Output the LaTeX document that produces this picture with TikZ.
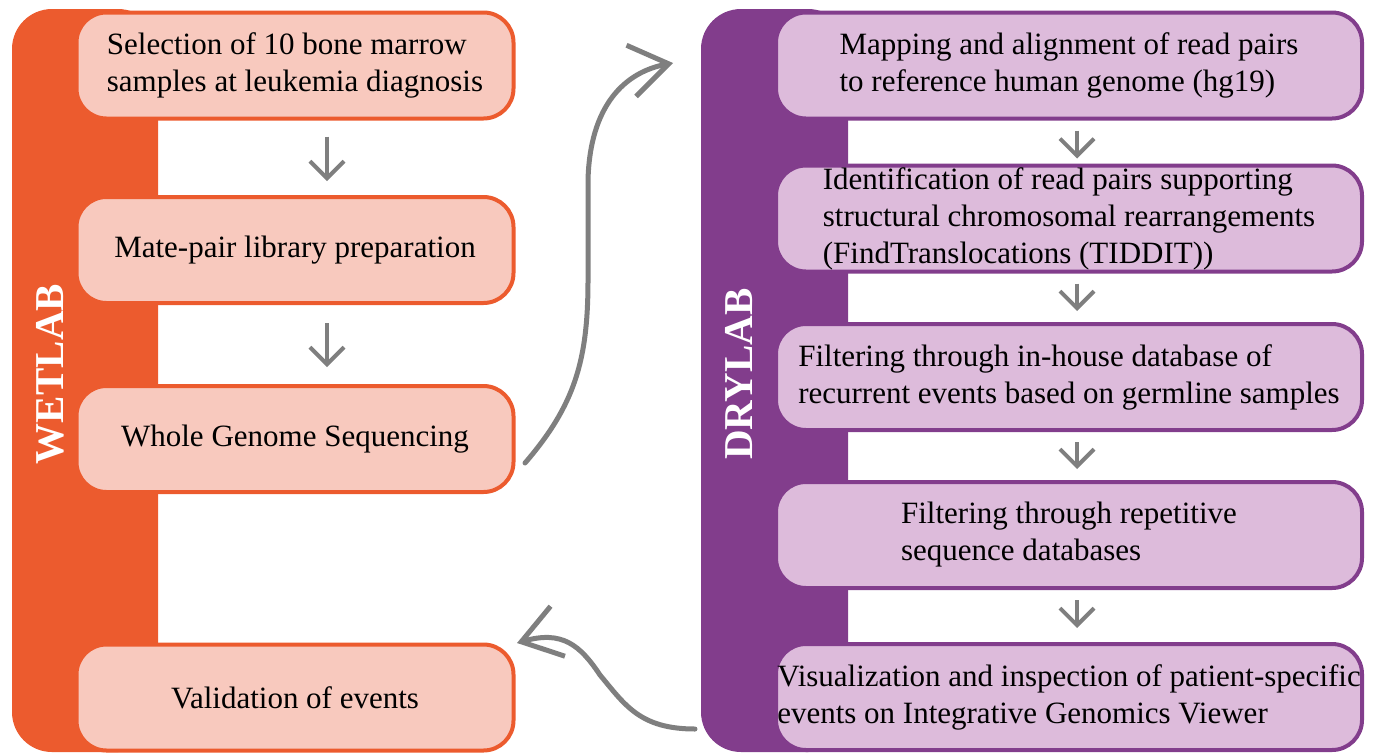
\documentclass[tikz,border=0pt]{standalone}
\usepackage{fontspec}
\setmainfont{Liberation Serif}
\usetikzlibrary{arrows.meta}
\usetikzlibrary{calc}
\definecolor{wetbar}{HTML}{EC5B2E}
\definecolor{wetfill}{HTML}{F8C9BE}
\definecolor{drybar}{HTML}{823D8C}
\definecolor{dryfill}{HTML}{DDBBDB}
\definecolor{arrgray}{HTML}{7F7F7F}
\newcommand{\labbar}[5] % left, right, colour, label, name
{
	% bar behind the boxes
	\fill[#3, rounded corners=40pt] (#1,9) rectangle (#2,752);
	% rotated label
	\node[barlabel] (#5) at ({#1+38},374) {#4};
}
\tikzset{
	stepbox/.style={draw, line width=4pt, rounded corners=30pt, align=left, inner sep=0pt,
		minimum height=106pt, font=\fontsize{31}{37}\selectfont},
	wetbox/.style={stepbox, draw=wetbar, fill=wetfill, minimum width=437pt},
	drybox/.style={stepbox, draw=drybar, fill=dryfill, minimum width=586pt},
	barlabel/.style={rotate=90, text=white, font=\fontsize{41}{41}\selectfont\bfseries},
	flowarr/.style={draw=arrgray, line width=4pt, -{Straight Barb[length=17pt,width=34pt]}},
	bigarr/.style={draw=arrgray, line width=5pt, line cap=round, -{Straight Barb[length=38pt,width=52pt]}},
}

\begin{document}
\begin{tikzpicture}[x=1pt, y=-1pt]
	\useasboundingbox (0,0) rectangle (1381,753);
	% wet lab column
	\labbar{12}{158}{wetbar}{WETLAB}{wetlab};
	\node[wetbox] (w1) at (295,65.5) {Selection of 10 bone marrow\\samples at leukemia diagnosis};
	\node[wetbox] (w2) at (295,250) {Mate-pair library preparation};
	\node[wetbox] (w3) at (295,439) {Whole Genome Sequencing};
	\node[wetbox] (w4) at (295,697.5) {Validation of events};
	\coordinate (wx) at (327,0);
	\draw[flowarr, shorten <=16pt, shorten >=14pt] (w1.south -| wx) -- (w2.north -| wx);
	\draw[flowarr, shorten <=18pt, shorten >=17pt] (w2.south -| wx) -- (w3.north -| wx);

	% dry lab column
	\labbar{701}{848}{drybar}{DRYLAB}{drylab};
	\node[drybox] (d1) at (1069,65.5) {Mapping and alignment of read pairs\\to reference human genome (hg19)};
	\node[drybox] (d2) at (1069,218.5) {Identification of read pairs supporting\\structural chromosomal rearrangements\\(FindTranslocations (TIDDIT))};
	\node[drybox] (d3) at (1069,377) {Filtering through in-house database of\\recurrent events based on germline samples};
	\node[drybox] (d4) at (1069,535) {Filtering through repetitive\\sequence databases};
	\node[drybox] (d5) at (1069,697) {Visualization and inspection of patient-specific\\events on Integrative Genomics Viewer};
	\coordinate (dx) at (1077,0);
	\draw[flowarr, shorten <=10pt, shorten >=5pt] (d1.south -| dx) -- (d2.north -| dx);
	\draw[flowarr, shorten <=10pt, shorten >=11pt] (d2.south -| dx) -- (d3.north -| dx);
	\draw[flowarr, shorten <=10pt, shorten >=11pt] (d3.south -| dx) -- (d4.north -| dx);
	\draw[flowarr, shorten <=10pt, shorten >=14pt] (d4.south -| dx) -- (d5.north -| dx);

	% hand-over arrows between the columns
	\coordinate (seqout) at (525,463);
	\coordinate (mapin) at (673,63);
	\coordinate (igvout) at (695,729);
	\coordinate (valin) at (517,643);
	\draw[bigarr] (seqout) .. controls (575,405) and (588,360) .. (588,280) -- (588,180)
		.. controls (590,105) and (625,72) .. (mapin);
	\draw[bigarr] (igvout) .. controls (640,729) and (625,705) .. (600,675)
		.. controls (580,645) and (562,630) .. (valin);
\end{tikzpicture}
\end{document}
